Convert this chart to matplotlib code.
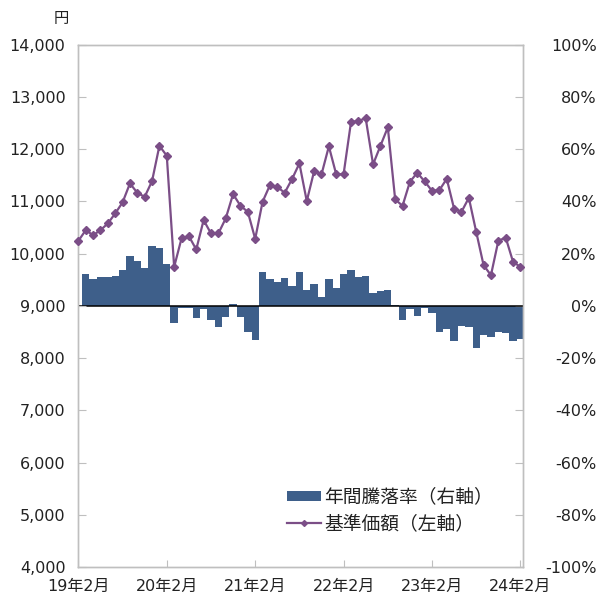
import numpy as np
import matplotlib
matplotlib.use("Agg")
import matplotlib.pyplot as plt
from matplotlib.patches import Patch
from matplotlib.lines import Line2D

plt.rcParams['font.family'] = ['DejaVu Sans', 'Noto Sans CJK JP']

# --- data -------------------------------------------------------------
tick_labels = ['19年2月', '20年2月', '21年2月', '22年2月', '23年2月', '24年2月']
tick_pos = [0, 12, 24, 36, 48, 60]

nav = [10243, 10448, 10352, 10448, 10576, 10768, 10979, 11343, 11163, 11086,
       11387, 12063, 11872, 9745, 10289, 10333, 10078, 10640, 10385, 10385,
       10672, 11138, 10914, 10799, 10281, 10990, 11310, 11278, 11163, 11425,
       11726, 11004, 11578, 11515, 12052, 11515, 11521, 12512, 12542, 12588,
       11707, 12063, 12416, 11036, 10914, 11374, 11547, 11381, 11201, 11214,
       11431, 10856, 10799, 11067, 10415, 9777, 9586, 10243, 10307, 9841, 9745]

annual_ret = [np.nan, 12.1, 10.1, 11.2, 11.0, 11.5, 13.6, 19.1, 17.2, 14.4, 22.8,
              22.2, 15.9, -6.5, -0.8, -1.0, -4.6, -1.2, -5.3, -8.3, -4.1,
              0.6, -4.1, -10.2, -13.2, 12.8, 10.1, 9.2, 10.8, 7.5, 12.9,
              6.2, 8.4, 3.5, 10.4, 6.9, 12.1, 13.8, 11.0, 11.6, 4.9,
              5.7, 6.0, 0.4, -5.5, -1.1, -4.0, -1.0, -2.7, -10.1, -8.8,
              -13.6, -7.6, -8.1, -16.0, -11.1, -11.9, -9.9, -10.6, -13.4, -12.9]

left_ticks = list(range(4000, 14001, 1000))
right_ticks = list(range(-100, 101, 20))

bar_label = '年間騰落率（右軸）'
line_label = '基準価額（左軸）'

# --- style ------------------------------------------------------------
BAR_C = '#3E5F8A'
LINE_C = '#7B4E87'
SPINE_C = '#BFBFBF'

W, H = 598, 602
fig = plt.figure(figsize=(W / 100, H / 100), dpi=100)
ax = fig.add_axes([78 / W, 1 - 567 / H, (523 - 78) / W, (567 - 44.6) / H])
ax2 = ax.twinx()
ax.set_zorder(ax2.get_zorder() + 1)
ax.patch.set_visible(False)

x = np.arange(len(nav))

ax2.bar(x, annual_ret, width=1.0, color=BAR_C, linewidth=0)
ax2.axhline(0, color='black', lw=1.1, zorder=3)
ax.plot(x, nav, color=LINE_C, lw=1.6, marker='D', markersize=4.4,
        clip_on=False, zorder=5)

ax.set_xlim(-0.05, 60.35)
ax.set_ylim(4000, 14000)
ax2.set_ylim(-100, 100)

ax.set_yticks(left_ticks)
ax.set_yticklabels([f'{v:,}' for v in left_ticks])
ax2.set_yticks(right_ticks)
ax2.set_yticklabels([f'{v}%' for v in right_ticks])
ax.set_xticks(tick_pos)
ax.set_xticklabels(tick_labels)

for a in (ax, ax2):
    for s in a.spines.values():
        s.set_color(SPINE_C)
        s.set_linewidth(1.0)

ax.tick_params(axis='y', direction='in', length=6, color=SPINE_C,
               labelsize=11.5, pad=9, labelcolor='#222222')
ax.tick_params(axis='x', direction='in', length=5, color=SPINE_C,
               labelsize=11.5, pad=8.5, labelcolor='#222222')
ax2.tick_params(axis='y', direction='in', length=6, color=SPINE_C,
                labelsize=11.5, pad=53, labelcolor='#222222')
for lab in ax2.get_yticklabels():
    lab.set_horizontalalignment('right')

fig.text(61 / W, 1 - 19 / H, '円', ha='center', va='center', fontsize=11,
         family=['Noto Sans CJK JP'], color='#222222')

handles = [Patch(facecolor=BAR_C, edgecolor='none'),
           Line2D([0], [0], color=LINE_C, lw=1.6, marker='D', markersize=3)]
leg = ax.legend(handles, [bar_label, line_label], loc='lower left',
                bbox_to_anchor=((287 - 78) / 445, (567 - 534) / 522.4),
                frameon=False, borderpad=0, borderaxespad=0,
                handlelength=1.8, handleheight=0.45, handletextpad=0.2,
                labelspacing=0.3,
                prop={'family': ['Noto Sans CJK JP'], 'size': 13.5})
for t in leg.get_texts():
    t.set_color('#222222')

fig.savefig('out.png', dpi=100)
